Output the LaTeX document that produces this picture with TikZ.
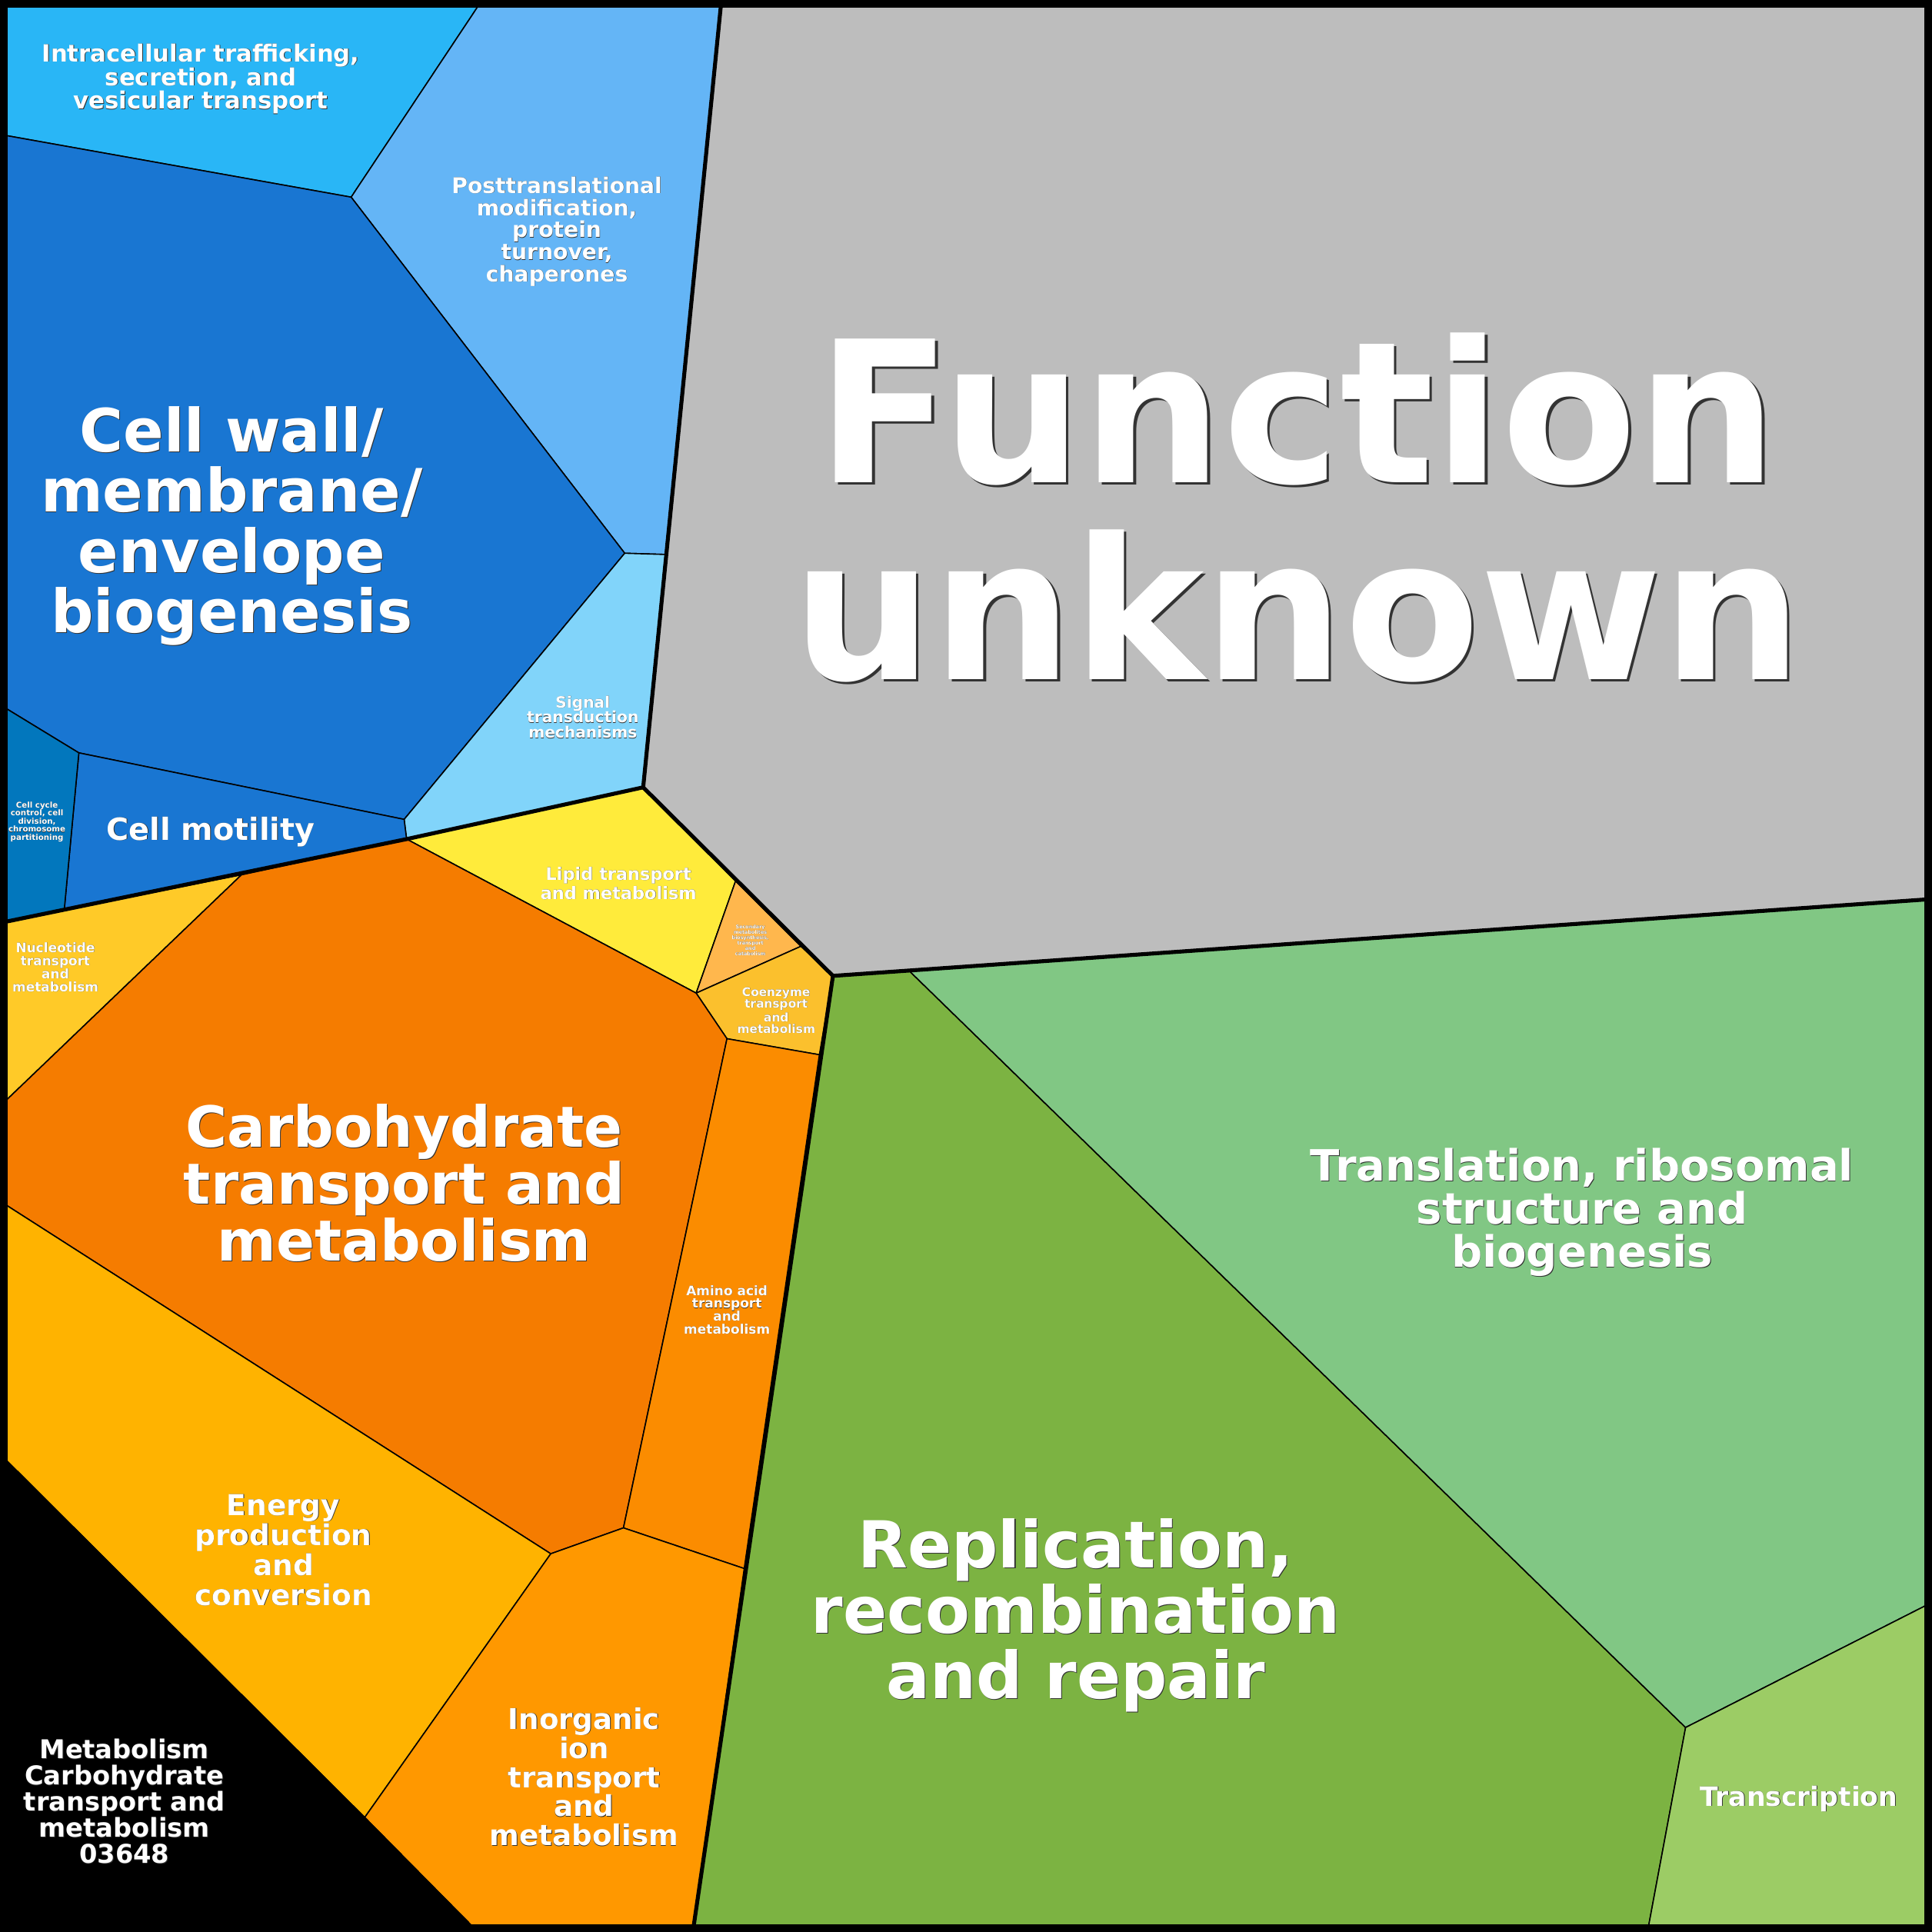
\documentclass[tikz,border=0pt]{standalone}
\usepackage{fontspec}
\setmainfont{DejaVu Sans}
\begin{document}
\begin{tikzpicture}[x=0.5pt,y=-0.5pt,
  cell/.style={draw=black,line width=0.5pt,line join=round},
  grp/.style={draw=black,line width=1.6pt,line join=round},
  txt/.style={text=white,font=\bfseries,align=center,inner sep=0pt},
  shd/.style={text=black!80,font=\bfseries,align=center,inner sep=0pt}]
\newcommand\lbl[5]{%
  \node[shd,font=\bfseries\fontsize{#3}{#4}\selectfont] (#1s) at ([shift={(0.025*#3,0.025*#3)}]#2) {#5};
  \node[txt,font=\bfseries\fontsize{#3}{#4}\selectfont] (#1) at (#2) {#5};}
\useasboundingbox (0,0) rectangle (1568,1568);
\fill[black] (0,0) rectangle (1568,1568);
% cells
\filldraw[cell,fill={rgb,255:red,41;green,182;blue,246}] (5,5)--(388,5)--(285,160)--(5,110)--cycle;
\filldraw[cell,fill={rgb,255:red,100;green,181;blue,246}] (388,5)--(585,5)--(540,450)--(507,449)--(285,160)--cycle;
\filldraw[cell,fill={rgb,255:red,25;green,118;blue,210}] (5,110)--(285,160)--(507,449)--(328,665)--(64,611)--(5,575)--cycle;
\filldraw[cell,fill={rgb,255:red,129;green,212;blue,250}] (507,449)--(540,450)--(522,639)--(330,681)--(328,665)--cycle;
\filldraw[cell,fill={rgb,255:red,25;green,118;blue,210}] (64,611)--(328,665)--(330,681)--(52,740)--cycle;
\filldraw[cell,fill={rgb,255:red,2;green,119;blue,189}] (5,575)--(64,611)--(52,740)--(5,748)--cycle;
\filldraw[cell,fill={rgb,255:red,189;green,189;blue,189}] (585,5)--(1563,5)--(1563,730)--(676,792)--(522,639)--cycle;
\filldraw[cell,fill={rgb,255:red,255;green,235;blue,59}] (330,681)--(522,639)--(597,715)--(565,806)--cycle;
\filldraw[cell,fill={rgb,255:red,255;green,183;blue,77}] (597,715)--(650,768)--(565,806)--cycle;
\filldraw[cell,fill={rgb,255:red,251;green,192;blue,45}] (650,768)--(676,792)--(665,856)--(590,843)--(565,806)--cycle;
\filldraw[cell,fill={rgb,255:red,255;green,202;blue,40}] (5,748)--(196,710)--(5,893)--cycle;
\filldraw[cell,fill={rgb,255:red,245;green,124;blue,0}] (196,710)--(330,681)--(565,806)--(590,843)--(506,1240)--(447,1261)--(5,978)--(5,893)--cycle;
\filldraw[cell,fill={rgb,255:red,251;green,140;blue,0}] (590,843)--(665,856)--(604,1273)--(506,1240)--cycle;
\filldraw[cell,fill={rgb,255:red,255;green,179;blue,0}] (5,978)--(447,1261)--(296,1475)--(5,1185)--cycle;
\filldraw[cell,fill={rgb,255:red,255;green,152;blue,0}] (447,1261)--(506,1240)--(604,1273)--(563,1563)--(383,1563)--(296,1475)--cycle;
\filldraw[cell,fill=black] (5,1185)--(296,1475)--(383,1563)--(5,1563)--cycle;
\filldraw[cell,fill={rgb,255:red,124;green,179;blue,66}] (676,792)--(738,788)--(1368,1402)--(1338,1563)--(563,1563)--cycle;
\filldraw[cell,fill={rgb,255:red,129;green,199;blue,132}] (738,788)--(1563,730)--(1563,1303)--(1368,1402)--cycle;
\filldraw[cell,fill={rgb,255:red,156;green,204;blue,101}] (1368,1402)--(1563,1303)--(1563,1563)--(1338,1563)--cycle;
% group boundaries
\draw[grp] (585,5)--(522,639)--(676,792)--(1563,730);
\draw[grp] (5,748)--(330,681)--(522,639);
\draw[grp] (676,792)--(563,1563);
\draw[black,line width=4pt] (2,2) rectangle (1566,1566);
% labels
\lbl{fu}{1053,412}{80}{80}{Function\\unknown}
\lbl{it}{163,64}{9.6}{9.6}{Intracellular trafficking,\\secretion, and\\vesicular transport}
\lbl{pt}{452,188}{8.8}{9}{Posttranslational\\modification,\\protein\\turnover,\\chaperones}
\lbl{cw}{188,427}{24.2}{24.5}{Cell wall/\\membrane/\\envelope\\biogenesis}
\lbl{sg}{473,582}{6.3}{6.2}{Signal\\transduction\\mechanisms}
\lbl{cm}{171,675}{12.4}{13}{Cell motility}
\lbl{cc}{30,667}{3.2}{3.3}{Cell cycle\\control, cell\\division,\\chromosome\\partitioning}
\lbl{lp}{502,717}{7}{6.6}{Lipid transport\\and metabolism}
\lbl{sm}{609,763}{2}{2.2}{Secondary\\metabolites\\biosynthesis,\\transport\\and\\catabolism}
\lbl{co}{630,820}{4.8}{4.6}{Coenzyme\\transport\\and\\metabolism}
\lbl{nu}{45,785}{5.3}{5.3}{Nucleotide\\transport\\and\\metabolism}
\lbl{ca}{328,960}{23}{23}{Carbohydrate\\transport and\\metabolism}
\lbl{aa}{590,1063}{5.3}{5.2}{Amino acid\\transport\\and\\metabolism}
\lbl{en}{230,1258}{11.7}{12.2}{Energy\\production\\and\\conversion}
\lbl{io}{474,1442}{11.6}{11.8}{Inorganic\\ion\\transport\\and\\metabolism}
\lbl{me}{101,1462}{10.5}{10.6}{Metabolism\\Carbohydrate\\transport and\\metabolism\\03648}
\lbl{re}{873,1311}{26.3}{26.5}{Replication,\\recombination\\and repair}
\lbl{tr}{1284,984}{17.5}{17.5}{Translation, ribosomal\\structure and\\biogenesis}
\lbl{ts}{1460,1460}{10.8}{11}{Transcription}
\end{tikzpicture}
\end{document}
